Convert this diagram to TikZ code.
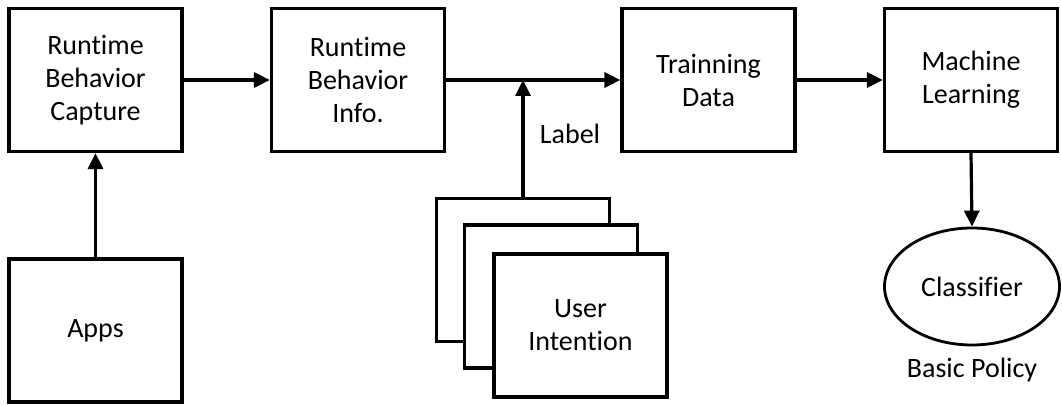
\documentclass[tikz,border=0pt]{standalone}
\usepackage{fontspec}
\setmainfont{Carlito}[Ligatures=NoCommon]
\usetikzlibrary{arrows.meta,shapes.geometric}
\begin{document}
\begin{tikzpicture}[x=1pt,y=-1pt,
  every node/.style={font=\fontsize{28}{33}\selectfont, text=black},
  blockbox/.style={draw, line width=3.2pt, fill=white, minimum width=173pt,
    minimum height=143pt, inner sep=0pt, align=center},
  oval/.style={draw, ellipse, line width=2.8pt, fill=white, minimum width=175pt,
    minimum height=117pt, inner sep=0pt},
  flow/.style={line width=3.2pt, -{Triangle[length=16pt,width=15pt]}},
  plain/.style={inner sep=0pt}]
  \useasboundingbox (0,0) rectangle (1062,406);

  % main pipeline
  \node[blockbox] (cap)   at (95.5,80)  {Runtime\\Behavior\\Capture};
  \node[blockbox] (info)  at (358,80)   {Runtime\\Behavior\\Info.};
  \node[blockbox] (train) at (708.5,80) {Trainning\\Data};
  \node[blockbox] (ml)    at (971,80)   {Machine\\Learning};
  \node[blockbox] (apps)  at (95.5,330.5) {Apps};

  % stacked user intention cards
  \node[blockbox] (ui1) at (523,270)   {};
  \node[blockbox] (ui2) at (551,296.5) {};
  \node[blockbox] (ui3) at (580.5,325.5) {User\\Intention};

  % classifier
  \node[oval] (cls) at (972,286.5) {Classifier};
  \node[plain] (policy) at (972,370) {Basic Policy};
  \node[plain] (lbl) at (570,134) {Label};

  \coordinate (join) at (ui1.north |- info.east);

  \draw[flow] (cap.east) -- (info.west);
  \draw[flow] (info.east) -- (train.west);
  \draw[flow] (train.east) -- (ml.west);
  \draw[flow] (apps.north) -- (cap.south);
  \draw[flow] (ui1.north) -- (join);
  \draw[flow] (ml.south) -- (cls.north);
\end{tikzpicture}
\end{document}
